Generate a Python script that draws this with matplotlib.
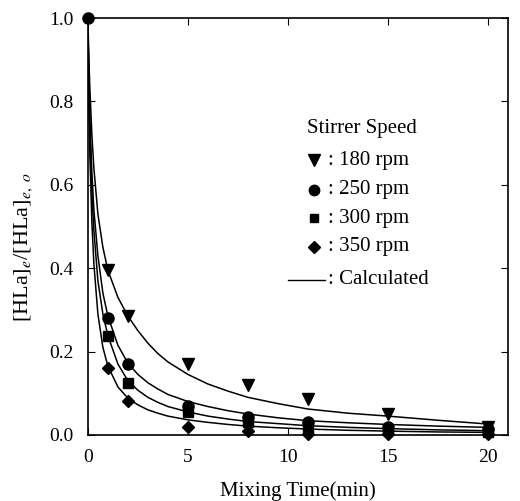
import numpy as np
import matplotlib.pyplot as plt

plt.rcParams['font.family'] = ['Liberation Serif', 'DejaVu Serif']
plt.rcParams['mathtext.fontset'] = 'stix'

# measured points (mixing time in min)
t_meas = [0, 1, 2, 5, 8, 11, 15, 20]
y_180 = [1.0, 0.395, 0.285, 0.170, 0.120, 0.085, 0.050, 0.020]
y_250 = [1.0, 0.280, 0.170, 0.070, 0.042, 0.032, 0.020, 0.015]
y_300 = [1.0, 0.237, 0.125, 0.055, 0.030, 0.020, 0.012, 0.006]
y_350 = [1.0, 0.160, 0.082, 0.020, 0.010, 0.003, 0.002, 0.001]

# calculated curves
t_calc = [0, 0.05, 0.1, 0.2, 0.3, 0.5, 0.75, 1, 1.5, 2, 2.5, 3, 3.5, 4, 5, 6, 7, 8,
          9.5, 11, 13, 15, 17.5, 20]
c_180 = [1.0, 0.90, 0.83, 0.72, 0.64, 0.53, 0.45, 0.395, 0.33, 0.285, 0.250, 0.220,
         0.195, 0.175, 0.145, 0.122, 0.105, 0.090, 0.075, 0.062, 0.052, 0.045, 0.035, 0.026]
c_250 = [1.0, 0.85, 0.76, 0.63, 0.54, 0.43, 0.34, 0.285, 0.215, 0.172, 0.145, 0.125,
         0.110, 0.097, 0.080, 0.068, 0.058, 0.050, 0.041, 0.034, 0.029, 0.025, 0.021, 0.018]
c_300 = [1.0, 0.83, 0.72, 0.58, 0.49, 0.37, 0.29, 0.238, 0.170, 0.130, 0.107, 0.090,
         0.078, 0.068, 0.055, 0.045, 0.038, 0.032, 0.027, 0.022, 0.018, 0.015, 0.012, 0.010]
c_350 = [1.0, 0.80, 0.67, 0.51, 0.41, 0.29, 0.21, 0.165, 0.115, 0.088, 0.072, 0.060,
         0.052, 0.045, 0.036, 0.030, 0.025, 0.021, 0.017, 0.014, 0.011, 0.009, 0.007, 0.006]

fig = plt.figure(figsize=(5.2, 5.01), dpi=100)
ax = fig.add_axes([0.169, 0.132, 0.808, 0.832])

for c in [c_180, c_250, c_300, c_350]:
    ax.plot(t_calc, c, color='black', lw=1.1, zorder=2)

# t = 0 is shared by all series, only the circle shows there
ax.plot(t_meas[1:], y_180[1:], 'v', color='black', ms=8, ls='none', zorder=3, clip_on=False)
ax.plot(t_meas[1:], y_300[1:], 's', color='black', ms=6.5, ls='none', zorder=3, clip_on=False)
ax.plot(t_meas[1:], y_350[1:], 'D', color='black', ms=6, ls='none', zorder=3, clip_on=False)
ax.plot(t_meas, y_250, 'o', color='black', ms=8, ls='none', zorder=4, clip_on=False)

ax.set_xlim(0, 21)
ax.set_ylim(0, 1.0)
ax.set_xticks([0, 5, 10, 15, 20])
ax.set_yticks([0.0, 0.2, 0.4, 0.6, 0.8, 1.0])
ax.set_yticklabels(['0.0', '0.2', '0.4', '0.6', '0.8', '1.0'])
ax.tick_params(direction='in', top=True, right=True, length=5, labelsize=14)
ax.tick_params(axis='x', pad=10)
ax.tick_params(axis='y', pad=10)
for s in ax.spines.values():
    s.set_linewidth(1.2)

ax.set_xlabel('Mixing Time(min)', fontsize=15, labelpad=11)
ax.set_ylabel('[HLa]$_e$/[HLa]$_{e,\\ o}$', fontsize=16)
ax.yaxis.set_label_coords(-0.125, 0.45)

# legend written out by hand
tr = ax.transAxes
ax.text(0.521, 0.736, 'Stirrer Speed', transform=tr, fontsize=15, va='center')
rows = [('v', 8, ': 180 rpm', 0.659), ('o', 7.5, ': 250 rpm', 0.588),
        ('s', 6, ': 300 rpm', 0.520), ('D', 6, ': 350 rpm', 0.451)]
for m, ms, lab, yy in rows:
    ax.plot([0.537], [yy], m, color='black', ms=ms, transform=tr)
    ax.text(0.572, yy, lab, transform=tr, fontsize=15, va='center')
ax.plot([0.476, 0.564], [0.372, 0.372], color='black', lw=1, transform=tr)
ax.text(0.572, 0.372, ': Calculated', transform=tr, fontsize=15, va='center')

fig.savefig('out.png', dpi=100)
